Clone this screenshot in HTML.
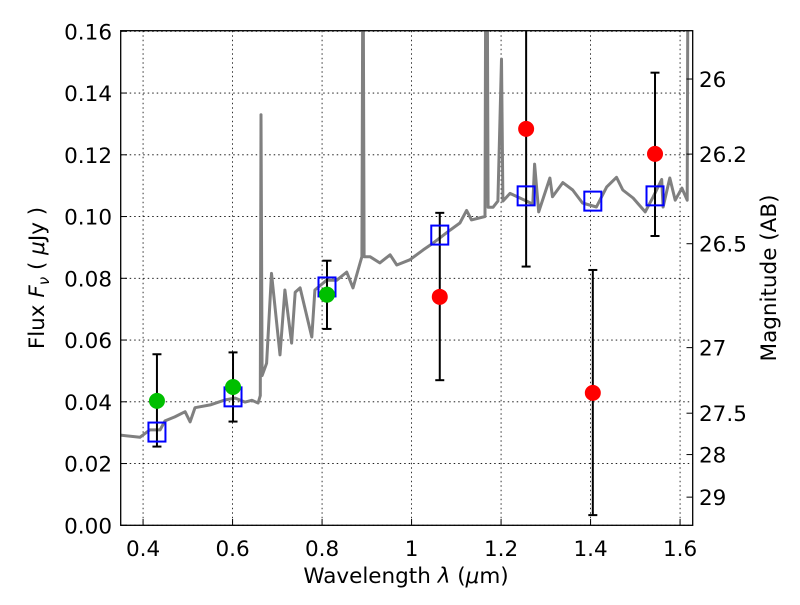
<!DOCTYPE html>
<html><head><meta charset="utf-8"><style>
body{margin:0;background:#fff}
svg{font-family:"DejaVu Sans","Liberation Sans",sans-serif}
</style></head><body>
<svg id="chart" width="800" height="600" viewBox="0 0 800 600" xmlns="http://www.w3.org/2000/svg">
<defs><clipPath id="clip"><rect x="120.7" y="30.7" width="572" height="494.6"/></clipPath></defs>
<rect width="800" height="600" fill="#fff"/>
<g id="grid"></g>
<g id="spec" clip-path="url(#clip)"></g>
<g id="marks"></g>
<rect x="120.7" y="30.7" width="572" height="494.6" fill="none" stroke="#000" stroke-width="1.3"/>
<g id="ticks" font-size="21.5" fill="#000"></g>
<text x="406" y="583" font-size="21.5" text-anchor="middle">Wavelength  <tspan font-style="italic">λ</tspan> (<tspan font-style="italic">μ</tspan>m)</text>
<text transform="translate(44,278) rotate(-90)" font-size="21.5" text-anchor="middle">Flux  <tspan font-style="italic">F</tspan><tspan font-style="italic" font-size="15" dy="5">ν</tspan><tspan dy="-5">  ( </tspan><tspan font-style="italic">μ</tspan>Jy )</text>
<text transform="translate(776,278) rotate(-90)" font-size="21.5" text-anchor="middle">Magnitude (AB)</text>
</svg>
<script>
const xTicks=[0.4,0.6,0.8,1.0,1.2,1.4,1.6];
const xTickLabels=["0.4","0.6","0.8","1","1.2","1.4","1.6"];
const yTicks=[0,0.02,0.04,0.06,0.08,0.10,0.12,0.14,0.16];
const yTickLabels=["0.00","0.02","0.04","0.06","0.08","0.10","0.12","0.14","0.16"];
const magTicks=[26,26.2,26.5,27,27.5,28,29];
const magTickLabels=["26","26.2","26.5","27","27.5","28","29"];
const specLambda=[0.348,0.393,0.415,0.438,0.449,0.471,0.494,0.505,0.516,0.550,0.583,0.606,0.628,0.643,0.657,0.662,0.6635,0.666,0.676,0.687,0.706,0.717,0.732,0.740,0.751,0.777,0.784,0.810,0.833,0.855,0.869,0.885,0.889,0.8915,0.894,0.900,0.907,0.929,0.952,0.967,0.996,1.026,1.048,1.086,1.108,1.123,1.134,1.164,1.166,1.1685,1.171,1.182,1.193,1.201,1.204,1.220,1.257,1.271,1.275,1.284,1.309,1.315,1.338,1.360,1.382,1.413,1.436,1.458,1.472,1.495,1.522,1.540,1.559,1.562,1.577,1.589,1.604,1.616,1.618,1.620,1.628];
const specFlux=[0.0292,0.0285,0.0309,0.0309,0.0338,0.0351,0.0368,0.0335,0.0381,0.0390,0.0406,0.0412,0.0399,0.0405,0.0396,0.0420,0.133,0.0485,0.0525,0.0816,0.0552,0.0762,0.0590,0.0755,0.0769,0.0610,0.0762,0.0794,0.0794,0.0820,0.0769,0.0850,0.087,0.20,0.087,0.0870,0.0870,0.0850,0.0876,0.0843,0.0860,0.0892,0.0914,0.0956,0.0979,0.102,0.0989,0.100,0.20,0.20,0.103,0.103,0.1050,0.151,0.1050,0.1075,0.1050,0.1040,0.117,0.1015,0.1125,0.1064,0.1110,0.1086,0.1044,0.1031,0.1096,0.1127,0.1086,0.1060,0.1015,0.1064,0.1120,0.1031,0.1125,0.1053,0.1092,0.1053,0.20,0.20,0.20];
const detLambda=[0.431,0.601,0.811];
const detFlux=[0.0403,0.0448,0.0747];
const detErrLo=[0.0255,0.0336,0.0636];
const detErrHi=[0.0554,0.0560,0.0857];
const lowLambda=[1.063,1.256,1.405,1.544];
const lowFlux=[0.074,0.1284,0.0429,0.1203];
const lowErrLo=[0.047,0.0838,0.0033,0.0937];
const lowErrHi=[0.1012,0.20,0.0827,0.1466];
const modelLambda=[0.431,0.601,0.811,1.063,1.256,1.405,1.544];
const modelFlux=[0.0302,0.0416,0.0772,0.094,0.1067,0.105,0.1067];

const X=l=>120.7+(l-0.35)*447.5;
const Y=f=>525.3-f*3087.5;
const M=m=>Y(Math.pow(10,(23.9-m)/2.5));
const NS="http://www.w3.org/2000/svg";
function mk(parent,tag,attrs){const e=document.createElementNS(NS,tag);for(const k in attrs)e.setAttribute(k,attrs[k]);document.getElementById(parent).appendChild(e);return e;}

xTicks.forEach((t,i)=>{
  const g=mk('grid','line',{x1:X(t),x2:X(t),y1:30.7,y2:525.3,stroke:'#000','stroke-width':0.8,'stroke-dasharray':'1.5,3'});
  
  
  const tk=mk('ticks','line',{x1:X(t),x2:X(t),y1:525.3,y2:519,stroke:'#000'});
  
  
  const tx=mk('ticks','text',{x:X(t),y:556,'text-anchor':'middle'});
  tx.textContent=xTickLabels[i];
  
  
});
yTicks.forEach((t,i)=>{
  const g=mk('grid','line',{x1:120.7,x2:692.7,y1:Y(t),y2:Y(t),stroke:'#000','stroke-width':0.8,'stroke-dasharray':'1.5,3'});
  
  
  const tk=mk('ticks','line',{x1:120.7,x2:127,y1:Y(t),y2:Y(t),stroke:'#000'});
  
  
  const tx=mk('ticks','text',{x:112,y:Y(t)+8,'text-anchor':'end'});
  tx.textContent=yTickLabels[i];
  
  
});
magTicks.forEach((m,i)=>{
  const tk=mk('ticks','line',{x1:686.5,x2:692.7,y1:M(m),y2:M(m),stroke:'#000'});
  
  
  const tx=mk('ticks','text',{x:699,y:M(m)+8,'text-anchor':'start'});
  tx.textContent=magTickLabels[i];
  
  
});
const d=specLambda.map((l,i)=>(i?'L':'M')+X(l).toFixed(1)+','+Y(specFlux[i]).toFixed(1)).join(' ');
const sp=mk('spec','path',{d:d,fill:'none',stroke:'#808080','stroke-width':3,'stroke-linejoin':'round'});



function errbar(l,lo,hi){
  const x=X(l),y1=Y(Math.min(hi,0.2)),y2=Y(lo);
  const v=mk('marks','line',{x1:x,x2:x,y1:Math.max(y1,30.7),y2:y2,stroke:'#000','stroke-width':2});
  
  
  if(hi<0.16){const c=mk('marks','line',{x1:x-4.5,x2:x+4.5,y1:y1,y2:y1,stroke:'#000','stroke-width':2});
    
    }
  const c2=mk('marks','line',{x1:x-4.5,x2:x+4.5,y1:y2,y2:y2,stroke:'#000','stroke-width':2});
  
  
}
detLambda.forEach((l,i)=>errbar(l,detErrLo[i],detErrHi[i]));
lowLambda.forEach((l,i)=>errbar(l,lowErrLo[i],lowErrHi[i]));
modelLambda.forEach((l,i)=>{
  const r=mk('marks','rect',{x:X(l)-8.5,y:Y(modelFlux[i])-9.5,width:17,height:19,fill:'none',stroke:'#0000ff','stroke-width':2});
  
  
});
detLambda.forEach((l,i)=>{
  const c=mk('marks','circle',{cx:X(l),cy:Y(detFlux[i]),r:8,fill:'#00bf00'});
  
  
});
lowLambda.forEach((l,i)=>{
  const c=mk('marks','circle',{cx:X(l),cy:Y(lowFlux[i]),r:8,fill:'#ff0000'});
  
  
});
</script>
</body></html>
